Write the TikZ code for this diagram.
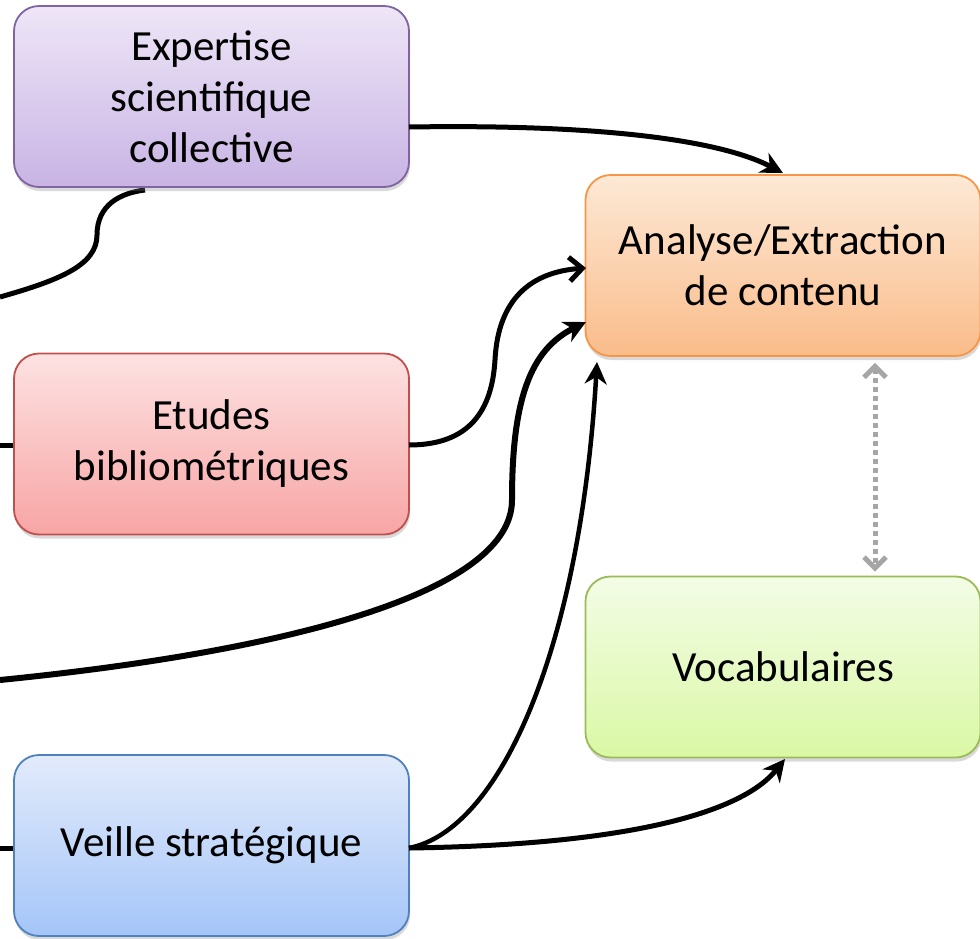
\documentclass[tikz,border=0pt]{standalone}
\usepackage{fontspec}
\setmainfont{Carlito}
\usetikzlibrary{arrows.meta,shadows}
\definecolor{purTop}{RGB}{238,230,247}
\definecolor{purBot}{RGB}{200,180,228}
\definecolor{purBrd}{RGB}{128,100,162}
\definecolor{oraTop}{RGB}{253,233,214}
\definecolor{oraBot}{RGB}{250,188,138}
\definecolor{oraBrd}{RGB}{247,150,70}
\definecolor{redTop}{RGB}{253,226,226}
\definecolor{redBot}{RGB}{248,165,165}
\definecolor{redBrd}{RGB}{192,80,77}
\definecolor{grnTop}{RGB}{243,252,230}
\definecolor{grnBot}{RGB}{218,248,165}
\definecolor{grnBrd}{RGB}{155,187,89}
\definecolor{bluTop}{RGB}{226,235,251}
\definecolor{bluBot}{RGB}{165,197,248}
\definecolor{bluBrd}{RGB}{79,129,189}
\definecolor{dotGray}{RGB}{166,166,166}
\tikzset{
  box/.style={rounded corners=25pt, minimum width=395pt, minimum height=181pt,
    inner sep=0pt, align=center, line width=1.8pt,
    font=\fontsize{43}{51}\selectfont,
    drop shadow={opacity=0.3, shadow xshift=1pt, shadow yshift=-4pt}},
  conn/.style={line width=5pt, black},
  tipS/.style={-{Stealth[length=22pt,width=22pt,inset=7pt]}},
  tipB/.style={-{Straight Barb[length=13pt,width=24pt,line width=5pt]}},
}
\begin{document}
\begin{tikzpicture}[x=1pt,y=-1pt]
\useasboundingbox (0,0) rectangle (980,938);
% connectors behind the boxes
\coordinate (lA) at (0,297);
\coordinate (lB) at (0,445);
\coordinate (lC) at (0,680);
\coordinate (lD) at (0,848);
\coordinate (eB) at (145,190);
\draw[conn] (lA) .. controls (60,280) and (97,265) .. (97,235)
   .. controls (97,205) and (120,193) .. (eB);

\node[box, draw=purBrd, top color=purTop, bottom color=purBot] (exp) at (211.5,96.5)
  {Expertise\\scientifique\\collective};
\node[box, draw=oraBrd, top color=oraTop, bottom color=oraBot] (ana) at (783,265.5)
  {Analyse/Extraction\\de contenu};
\node[box, draw=redBrd, top color=redTop, bottom color=redBot] (etu) at (211.5,444)
  {Etudes\\bibliométriques};
\node[box, draw=grnBrd, top color=grnTop, bottom color=grnBot] (voc) at (783,667)
  {Vocabulaires};
\node[box, draw=bluBrd, top color=bluTop, bottom color=bluBot] (vei) at (211.5,845.5)
  {Veille stratégique};

\coordinate (anaL1) at (586,268);
\coordinate (anaL2) at (586,322);
\coordinate (anaB) at (597,362);
\coordinate (anaT) at (783,173);
\coordinate (vocB) at (785,759);
\coordinate (etR) at (409,445);
\coordinate (veR) at (409,848);
\coordinate (expR) at (409,127);

\draw[conn] (lB) -- (etu.west |- lB);
\draw[conn] (lD) -- (vei.west |- lD);

\draw[conn,tipS] (expR) .. controls (600,124) and (720,140) .. (anaT);
\draw[conn,tipB] (etR) .. controls (470,445) and (492,410) .. (495,360)
   .. controls (498,300) and (530,272) .. (anaL1);
\draw[conn,line width=6pt,tipS] (lC) .. controls (300,650) and (512,590) .. (512,500)
   .. controls (512,400) and (530,350) .. (anaL2);
\draw[conn,line width=4.5pt,tipS] (veR) .. controls (500,830) and (580,650) .. (anaB);
\draw[conn,tipS] (veR) .. controls (620,845) and (740,815) .. (vocB);

\draw[dotGray, line width=5pt, dash pattern=on 5pt off 4pt,
  {Straight Barb[length=11pt,width=22pt,line width=5pt]}-{Straight Barb[length=11pt,width=22pt,line width=5pt]}]
  (ana.south -| 875,0) ++(0,6) -- ([yshift=4pt]voc.north -| 875,0);
\end{tikzpicture}
\end{document}
